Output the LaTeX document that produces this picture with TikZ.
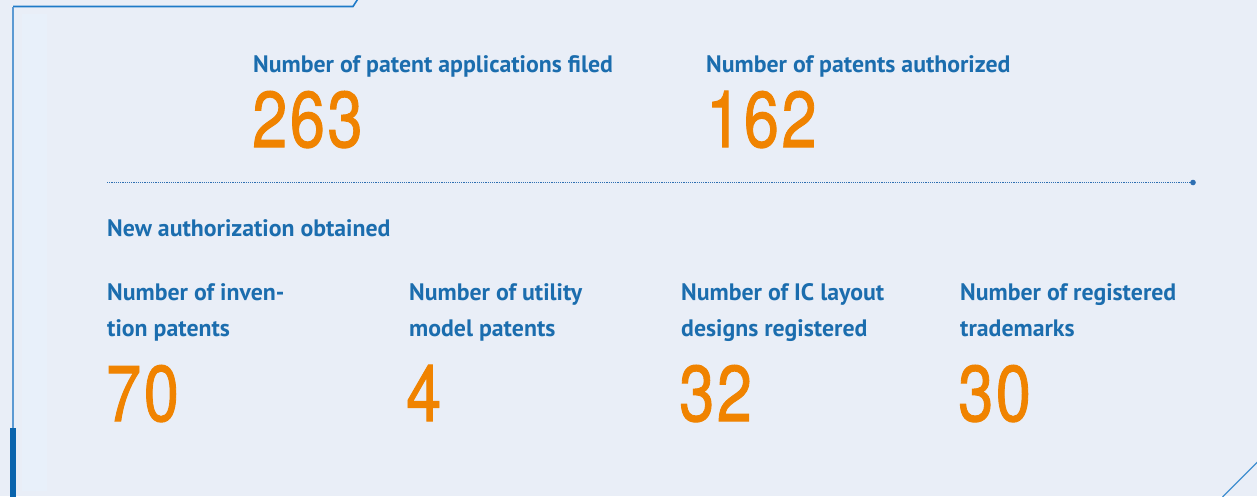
\documentclass[tikz,border=0pt]{standalone}
\usepackage{fontspec}
\setmainfont{PT Sans}
\newfontfamily\numfont{TeX Gyre Heros}[AutoFakeBold=1.3,LetterSpace=4]
\definecolor{bgc}{HTML}{E9EEF7}
\definecolor{stripc}{HTML}{E8F0FA}
\definecolor{labc}{HTML}{1B6DAE}
\definecolor{numc}{HTML}{F08300}
\definecolor{framec}{HTML}{1E7AC8}
\definecolor{leftc}{HTML}{5C9AD3}
\definecolor{barc}{HTML}{0A64AD}
\definecolor{dotc}{HTML}{2E6FB2}
\tikzset{
  lab/.style={anchor=base west, inner sep=0pt, text=labc, font=\bfseries\fontsize{23.8}{26}\selectfont},
  num/.style={anchor=base west, inner sep=0pt, text=numc, font=\numfont\bfseries\fontsize{79}{82}\selectfont},
  dotline/.style={dotc, line width=1.1pt, dash pattern=on 1.1pt off 1.1pt},
}
\newcommand{\nm}[1]{\scalebox{0.8}[1]{#1}}
\begin{document}
\begin{tikzpicture}[x=1pt,y=-1pt]
\fill[bgc] (0,0) rectangle (1257,496);
\useasboundingbox (0,0) rectangle (1257,496);
% light strip
\fill[stripc] (22,14) rectangle (47,491);
% frame
\coordinate (ftl) at (13,6.5);
\coordinate (ftr) at (353,6.5);
\coordinate (fte) at (357.5,-0.5);
\coordinate (flb) at (13,428);
\coordinate (fbb) at (13,497);
\draw[framec, line width=1.6pt] (fte) -- (ftr) -- (ftl);
\draw[leftc, line width=2pt] (ftl) -- (flb);
\draw[barc, line width=6pt] (flb) -- (fbb);
\coordinate (brA) at (1222.5,497);
\coordinate (brB) at (1258,461.5);
\draw[framec!85!white, line width=1.3pt] (brA) -- (brB);
% top stats
\node[lab] (t1) at (253,72) {Number of patent applications filed};
\node[lab] (t2) at (706,72) {Number of patents authorized};
\node[num] (n1) at (252,147) {\nm{263}};
\node[num] (n2) at (706,147) {\nm{162}};
% dotted separator
\coordinate (dl) at (107,182.5);
\coordinate (dr) at (1193,182.5);
\draw[dotline] (dl) -- (dr);
\fill[dotc] (dr) circle (2.8);
% section title
\node[lab] (sec) at (107,236) {New authorization obtained};
% columns
\node[lab] (a1) at (107,300) {Number of inven-};
\node[lab] (a2) at (107,336) {tion patents};
\node[num] (an) at (106,421) {\nm{70}};
\node[lab] (b1) at (409,300) {Number of utility};
\node[lab] (b2) at (409,336) {model patents};
\node[num] (bn) at (406,421) {\nm{4}};
\node[lab] (c1) at (681,300) {Number of IC layout};
\node[lab] (c2) at (681,336) {designs registered};
\node[num] (cn) at (679,421) {\nm{32}};
\node[lab] (d1) at (960,300) {Number of registered};
\node[lab] (d2) at (960,336) {trademarks};
\node[num] (dn) at (958,421) {\nm{30}};
\end{tikzpicture}
\end{document}
